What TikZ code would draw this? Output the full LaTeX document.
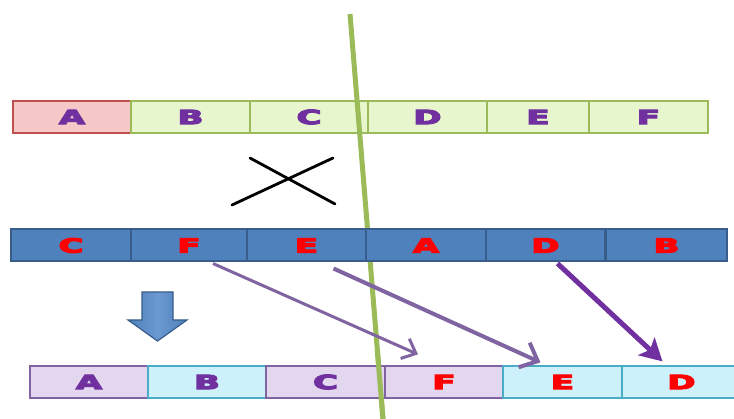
\documentclass[tikz,border=0pt]{standalone}
\usepackage{fontspec}
\newfontfamily\cellfont{DejaVu Sans}
\usetikzlibrary{arrows.meta,calc}
\definecolor{rowred}{HTML}{F6C9C9}
\definecolor{rowredline}{HTML}{C0504D}
\definecolor{rowgreen}{HTML}{E8F6CE}
\definecolor{rowgreenline}{HTML}{9BBB59}
\definecolor{rowblue}{HTML}{4F81BD}
\definecolor{rowbluelight}{HTML}{6A98D0}
\definecolor{rowblueline}{HTML}{385D8A}
\definecolor{rowlilac}{HTML}{E2D7EE}
\definecolor{rowlilacline}{HTML}{8064A2}
\definecolor{rowcyan}{HTML}{CDF1FB}
\definecolor{rowcyanline}{HTML}{4BACC6}
\definecolor{txtpurple}{HTML}{7030A0}
\definecolor{txtred}{HTML}{FF0000}
\definecolor{arrlight}{HTML}{8064A2}
\definecolor{arrdark}{HTML}{7030A0}
% heavy, wide gene letters: stroked and filled glyphs
\newcommand{\widetxt}[1]{\scalebox{1.72}[1]{%
  \special{pdf:literal direct 2 Tr 1.1 w}#1\special{pdf:literal direct 0 Tr}}}
\begin{document}
\begin{tikzpicture}[x=1pt,y=-1pt,
  cell/.style={draw, line width=1.2pt, minimum height=32pt, inner sep=0pt,
    font=\cellfont\bfseries\fontsize{19.5}{20}\selectfont},
  redcell/.style={cell, fill=rowred, draw=rowredline, text=txtpurple},
  greencell/.style={cell, fill=rowgreen, draw=rowgreenline, text=txtpurple},
  bluecell/.style={cell, fill=rowblue, draw=rowblueline, line width=2pt, text=txtred},
  lilaccell/.style={cell, fill=rowlilac, draw=rowlilacline, text=txtpurple},
  cyancell/.style={cell, fill=rowcyan, draw=rowcyanline, text=txtred},
  lilacredcell/.style={cell, fill=rowlilac, draw=rowlilacline, text=txtred},
  openmove/.style 2 args={line width=#1,
    -{Straight Barb[length=#2,width=1.8*#2,line width=#1]}},
  solidmove/.style={line width=#1, -{Stealth[length=22pt,width=24pt,inset=5pt]}},
  cross/.style={line width=2.8pt, black, line cap=round}]
\useasboundingbox (0,0) rectangle (734,419);

% parent row
\node[redcell,   minimum width=118pt] (tA) at (72,117)    {\widetxt{A}};
\node[greencell, minimum width=119pt] (tB) at (190.5,117) {\widetxt{B}};
\node[greencell, minimum width=118pt] (tC) at (309,117)   {\widetxt{C}};
\node[greencell, minimum width=119pt] (tD) at (427.5,117) {\widetxt{D}};
\node[greencell, minimum width=102pt] (tE) at (538,117)   {\widetxt{E}};
\node[greencell, minimum width=119pt] (tF) at (648.5,117) {\widetxt{F}};

% crossover mark
\draw[cross] (232,205) -- (333,158);
\draw[cross] (250,158) -- (335,204);

% cut line (passes behind the second parent row)
\draw[rowgreenline, line width=5pt] (350,14) -- (383,419);

% second parent row
\node[bluecell, minimum width=120pt] (mC) at (71,245.5)    {\widetxt{C}};
\node[bluecell, minimum width=116pt] (mF) at (189,245.5)   {\widetxt{F}};
\node[bluecell, minimum width=119pt] (mE) at (306.5,245.5) {\widetxt{E}};
\node[bluecell, minimum width=120pt] (mA) at (426,245.5)   {\widetxt{A}};
\node[bluecell, minimum width=119pt] (mD) at (545.5,245.5) {\widetxt{D}};
\node[bluecell, minimum width=121pt] (mB) at (666.5,245.5) {\widetxt{B}};

% offspring row
\node[lilaccell,    minimum width=118pt] (bA) at (89,382)    {\widetxt{A}};
\node[cyancell,     minimum width=118pt, text=txtpurple] (bB) at (207,382) {\widetxt{B}};
\node[lilaccell,    minimum width=119pt] (bC) at (325.5,382) {\widetxt{C}};
\node[lilacredcell, minimum width=118pt] (bF) at (444,382)   {\widetxt{F}};
\node[cyancell,     minimum width=119pt] (bE) at (562.5,382) {\widetxt{E}};
\node[cyancell,     minimum width=119pt] (bD) at (681.5,382) {\widetxt{D}};

% cut line over the offspring row
\draw[rowgreenline, line width=5pt] (377.3,350) -- (383,419);

% block arrow pointing down
\shade[left color=rowblue, right color=rowblue, middle color=rowbluelight]
  (142,292) -- (173,292) -- (173,320) -- (187,320) -- (157.5,341)
  -- (128,320) -- (142,320) -- cycle;
\draw[draw=rowblueline, line width=1.2pt]
  (142,292) -- (173,292) -- (173,320) -- (187,320) -- (157.5,341)
  -- (128,320) -- (142,320) -- cycle;

% moved genes
\draw[openmove={3pt}{12pt}, arrlight]
  ($(mF.south)+(24,1)$) -- ($(bF.north)+(-26,-11)$);
\draw[openmove={4pt}{15pt}, arrlight]
  ($(mE.south)+(27,6)$) -- ($(bE.north)+(-22,-3)$);
\draw[solidmove=5pt, arrdark]
  ($(mD.south)+(12,1)$) -- ($(bD.north)+(-19,-4)$);
\end{tikzpicture}
\end{document}
